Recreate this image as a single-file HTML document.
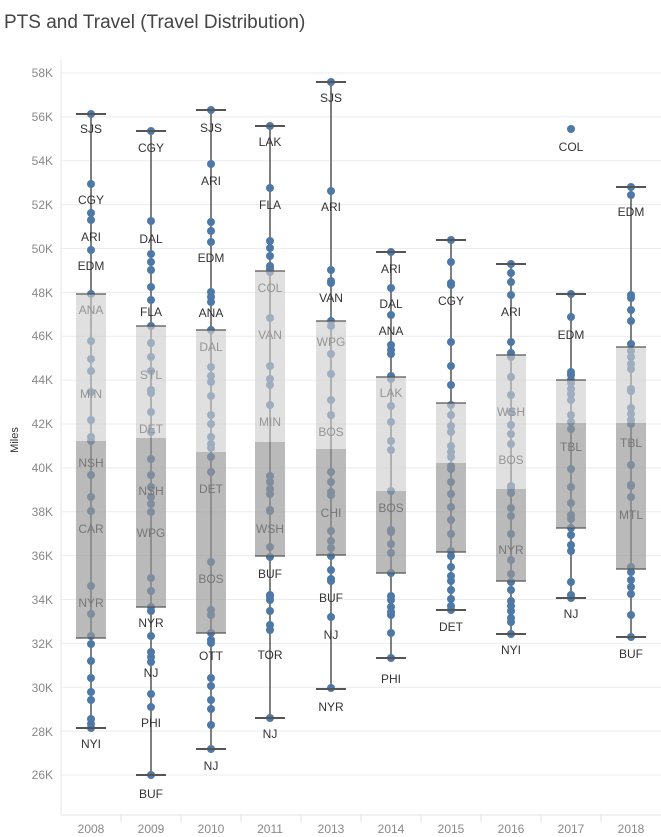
<!DOCTYPE html>
<html><head><meta charset="utf-8"><style>
body{margin:0;background:#fff;}
svg{display:block;font-family:"Liberation Sans",sans-serif;}
.t{font-size:12px;fill:#333;text-anchor:middle;}
.ax{font-size:12px;fill:#888;}
</style></head><body>
<svg id="s" width="661" height="837" viewBox="0 0 661 837">
<text x="4" y="28" style="font-size:19px;fill:#444">PTS and Travel (Travel Distribution)</text>
<text transform="translate(18,440) rotate(-90)" style="font-size:11px;fill:#333;text-anchor:middle">Miles</text>
<g id="grid"></g>
<g class="ax" text-anchor="end">
<text x="53" y="77">58K</text><text x="53" y="121">56K</text><text x="53" y="165">54K</text><text x="53" y="209">52K</text><text x="53" y="253">50K</text><text x="53" y="297">48K</text><text x="53" y="340">46K</text><text x="53" y="384">44K</text><text x="53" y="428">42K</text><text x="53" y="472">40K</text><text x="53" y="516">38K</text><text x="53" y="560">36K</text><text x="53" y="604">34K</text><text x="53" y="648">32K</text><text x="53" y="692">30K</text><text x="53" y="736">28K</text><text x="53" y="779">26K</text>
</g>
<g class="ax" text-anchor="middle">
<text x="91" y="833">2008</text><text x="151" y="833">2009</text><text x="211" y="833">2010</text><text x="270" y="833">2011</text><text x="331" y="833">2013</text><text x="391" y="833">2014</text><text x="451" y="833">2015</text><text x="511" y="833">2016</text><text x="571" y="833">2017</text><text x="631" y="833">2018</text>
</g>
<g id="pts"></g>
<g class="t">
<text x="91" y="133">SJS</text><text x="91" y="204">CGY</text><text x="91" y="241">ARI</text><text x="91" y="270">EDM</text><text x="91" y="314">ANA</text><text x="91" y="398">MIN</text><text x="91" y="467">NSH</text><text x="91" y="533">CAR</text><text x="91" y="607">NYR</text><text x="91" y="748">NYI</text>
<text x="151" y="152">CGY</text><text x="151" y="243">DAL</text><text x="151" y="316">FLA</text><text x="151" y="379">STL</text><text x="151" y="433">DET</text><text x="151" y="495">NSH</text><text x="151" y="537">WPG</text><text x="151" y="627">NYR</text><text x="151" y="677">NJ</text><text x="151" y="727">PHI</text><text x="151" y="798">BUF</text>
<text x="211" y="132">SJS</text><text x="211" y="185">ARI</text><text x="211" y="262">EDM</text><text x="211" y="317">ANA</text><text x="211" y="351">DAL</text><text x="211" y="493">DET</text><text x="211" y="583">BOS</text><text x="211" y="660">OTT</text><text x="211" y="770">NJ</text>
<text x="270" y="146">LAK</text><text x="270" y="209">FLA</text><text x="270" y="292">COL</text><text x="270" y="339">VAN</text><text x="270" y="426">MIN</text><text x="270" y="533">WSH</text><text x="270" y="578">BUF</text><text x="270" y="659">TOR</text><text x="270" y="738">NJ</text>
<text x="331" y="102">SJS</text><text x="331" y="211">ARI</text><text x="331" y="302">VAN</text><text x="331" y="346">WPG</text><text x="331" y="436">BOS</text><text x="331" y="517">CHI</text><text x="331" y="602">BUF</text><text x="331" y="639">NJ</text><text x="331" y="711">NYR</text>
<text x="391" y="273">ARI</text><text x="391" y="308">DAL</text><text x="391" y="335">ANA</text><text x="391" y="397">LAK</text><text x="391" y="512">BOS</text><text x="391" y="683">PHI</text>
<text x="451" y="305">CGY</text><text x="451" y="631">DET</text>
<text x="511" y="316">ARI</text><text x="511" y="416">WSH</text><text x="511" y="464">BOS</text><text x="511" y="554">NYR</text><text x="511" y="654">NYI</text>
<text x="571" y="151">COL</text><text x="571" y="339">EDM</text><text x="571" y="451">TBL</text><text x="571" y="618">NJ</text>
<text x="631" y="216">EDM</text><text x="631" y="447">TBL</text><text x="631" y="519">MTL</text><text x="631" y="658">BUF</text>
</g>
<g id="box"></g>
</svg>
<script>
var NS="http://www.w3.org/2000/svg";
function el(p,t,a){var e=document.createElementNS(NS,t);for(var k in a)e.setAttribute(k,a[k]);document.getElementById(p).appendChild(e);return e;}
for(var i=0;i<17;i++){var y=73+i*43.875;el("grid","line",{x1:61,x2:661,y1:y,y2:y,stroke:"#ececec","stroke-width":1});}
el("grid","line",{x1:61,x2:61,y1:60,y2:815,stroke:"#e6e6e6"});
el("grid","line",{x1:61,x2:661,y1:815,y2:815,stroke:"#e6e6e6"});
[121,181,241,301,361,421,481,541,601].forEach(function(x){el("grid","line",{x1:x,x2:x,y1:815,y2:822,stroke:"#e0e0e0"});});
var C=[
[91,114,728,294,441,638,[114,184,213,220,250,294,341,359,371,392,420,437,441,475,497,511,586,614,636,644,661,678,692,700,719,724,728]],
[151,131,775,326,438,607,[131,221,254,262,270,287,300,326,343,357,371,390,393,412,432,459,475,487,497,504,512,578,591,607,611,636,652,657,662,694,707,775]],
[211,110,749,330,452,633,[110,164,222,231,242,292,297,302,330,367,376,382,396,415,424,437,444,448,457,472,562,610,615,633,640,643,678,686,700,709,725,749]],
[270,126,718,271,442,556,[126,188,241,248,256,266,269,272,318,366,379,385,405,476,482,489,494,510,511,547,557,595,597,600,611,625,630,718]],
[331,82,689,321,449,555,[82,191,270,281,283,321,326,354,374,400,415,472,482,492,495,531,541,548,556,570,579,581,617,688]],
[391,252,658,377,491,573,[252,288,315,345,350,354,376,379,406,422,441,450,491,530,532,544,553,573,596,600,607,612,615,633,658]],
[451,240,610,403,463,552,[240,262,283,285,342,366,385,405,415,426,432,446,452,457,466,469,482,494,507,520,534,551,556,567,576,581,590,599,606,610]],
[511,264,634,355,489,581,[264,273,282,295,342,353,357,377,395,412,425,434,444,486,488,493,508,516,534,560,574,582,590,601,606,611,618,622,634]],
[571,294,598,380,423,528,[129,294,317,372,375,380,383,389,394,400,415,422,429,469,487,503,515,519,528,535,545,551,582,595,598]],
[631,187,637,347,423,569,[187,195,295,298,310,321,344,351,357,364,369,389,391,408,414,420,424,465,485,486,497,567,572,580,587,594,615,637]]
];
C.forEach(function(c){var x=c[0];
el("pts","line",{x1:x,x2:x,y1:c[1],y2:c[2],stroke:"#555","stroke-width":1.5});
c[6].forEach(function(y){el("pts","circle",{cx:x,cy:y,r:4,fill:"#4e79a7"});});
el("box","rect",{x:x-15,y:c[3],width:30,height:c[4]-c[3],fill:"rgb(206,206,206)","fill-opacity":0.63});
el("box","rect",{x:x-15,y:c[4],width:30,height:c[5]-c[4],fill:"rgb(151,151,151)","fill-opacity":0.667});
[c[3],c[5]].forEach(function(y){el("box","line",{x1:x-15,x2:x+15,y1:y,y2:y,stroke:"#555","stroke-width":1.2});});
[c[1],c[2]].forEach(function(y){el("box","line",{x1:x-15,x2:x+15,y1:y,y2:y,stroke:"#555","stroke-width":2});});
});
</script>
</body></html>
